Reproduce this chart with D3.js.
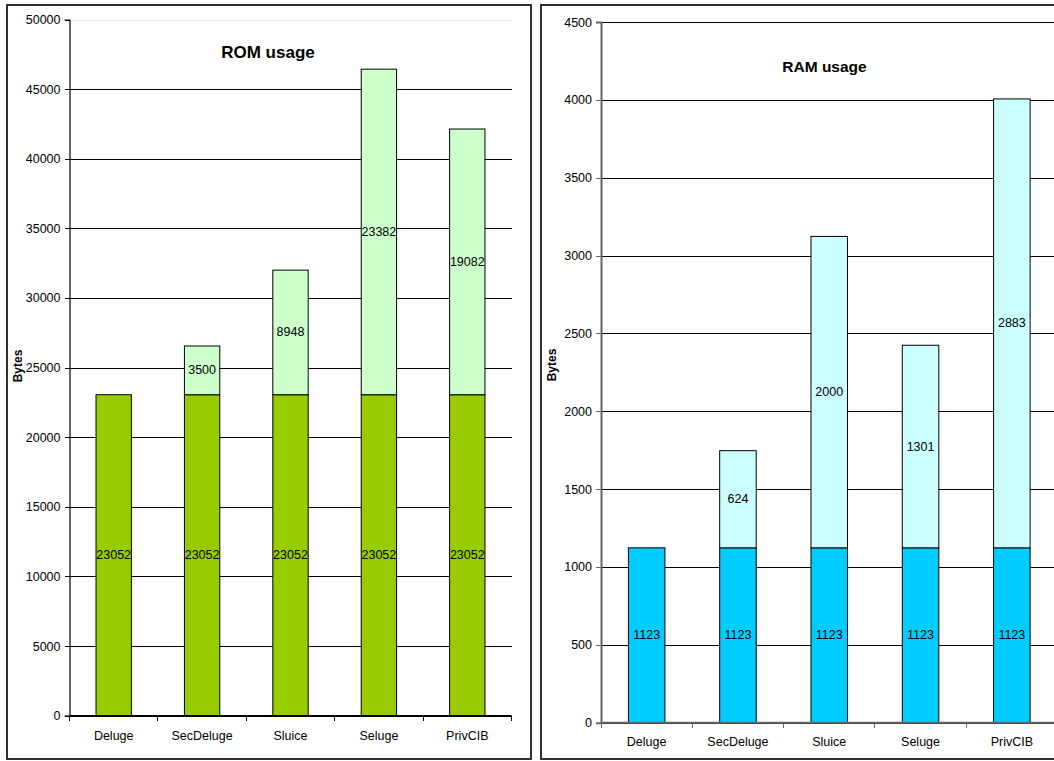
<!DOCTYPE html>
<html>
<head>
<meta charset="utf-8">
<script src="https://cdn.jsdelivr.net/npm/d3@7"></script>
<style>
  html, body { margin: 0; padding: 0; background: #fff; }
  svg { display: block; font-family: "Liberation Sans", Arial, sans-serif; }
</style>
</head>
<body>
<svg id="chart" width="1054" height="761"></svg>
<script>
// Platforms compared in both charts
const categories = ["Deluge", "SecDeluge", "Sluice", "Seluge", "PrivCIB"];

// ROM usage (bytes): shared base plus per-scheme extra
const romBase  = [23052, 23052, 23052, 23052, 23052];
const romExtra = [0, 3500, 8948, 23382, 19082];
const romTicks = [0, 5000, 10000, 15000, 20000, 25000, 30000, 35000, 40000, 45000, 50000];

// RAM usage (bytes): shared base plus per-scheme extra
const ramBase  = [1123, 1123, 1123, 1123, 1123];
const ramExtra = [0, 624, 2000, 1301, 2883];
const ramTicks = [0, 500, 1000, 1500, 2000, 2500, 3000, 3500, 4000, 4500];

const svg = d3.select("#chart");

function drawPanel(opt) {
  const g = svg.append("g");

  // chart frame
  g.append("rect")
    .attr("x", opt.frame[0]).attr("y", opt.frame[1])
    .attr("width", opt.frame[2]).attr("height", opt.frame[3])
    .attr("fill", "#fff").attr("stroke", "#1a1a1a").attr("stroke-width", 1.8);

  const [x0, x1] = opt.xRange;
  const [yb, yt] = opt.yRange;

  const x = d3.scaleBand().domain(categories).range([x0, x1])
    .paddingInner(0.6).paddingOuter(0.3);
  const y = d3.scaleLinear().domain([0, opt.max]).range([yb, yt]);

  // horizontal gridlines
  const grid = g.append("g").attr("transform", `translate(${x0},0)`)
    .call(d3.axisLeft(y).tickValues(opt.ticks).tickSize(-(x1 - x0)).tickFormat(""));
  grid.select(".domain").remove();
  grid.selectAll(".tick line")
    .attr("stroke", d => (d === opt.max && opt.lightTop) ? "#e6e6e6" : "#000")
    .attr("stroke-width", 1)
    .attr("shape-rendering", "crispEdges");

  // stacked bars
  const rows = categories.map((c, i) => ({ c, base: opt.base[i], extra: opt.extra[i] }));
  const bars = g.append("g");
  bars.selectAll("rect.base").data(rows).join("rect")
    .attr("class", "base")
    .attr("x", d => x(d.c)).attr("width", x.bandwidth())
    .attr("y", d => y(d.base)).attr("height", d => y(0) - y(d.base))
    .attr("fill", opt.baseColor).attr("stroke", "#000").attr("stroke-width", 1);
  bars.selectAll("rect.extra").data(rows.filter(d => d.extra > 0)).join("rect")
    .attr("class", "extra")
    .attr("x", d => x(d.c)).attr("width", x.bandwidth())
    .attr("y", d => y(d.base + d.extra)).attr("height", d => y(d.base) - y(d.base + d.extra))
    .attr("fill", opt.extraColor).attr("stroke", "#000").attr("stroke-width", 1);

  // value labels centred in each segment
  const labels = g.append("g").attr("font-size", 12.5).attr("fill", "#000")
    .attr("text-anchor", "middle").attr("dominant-baseline", "central");
  labels.selectAll("text.b").data(rows).join("text")
    .attr("x", d => x(d.c) + x.bandwidth() / 2)
    .attr("y", d => y(d.base / 2))
    .text(d => d.base);
  labels.selectAll("text.e").data(rows.filter(d => d.extra > 0)).join("text")
    .attr("x", d => x(d.c) + x.bandwidth() / 2)
    .attr("y", d => y(d.base + d.extra / 2))
    .text(d => d.extra);

  // y axis
  const yAxis = g.append("g").attr("transform", `translate(${x0},0)`)
    .call(d3.axisLeft(y).tickValues(opt.ticks).tickSize(5).tickPadding(4).tickFormat(d3.format("d")));
  yAxis.select(".domain").attr("stroke", opt.axisColor).attr("stroke-width", opt.axisWidth);
  yAxis.selectAll(".tick line").attr("stroke", opt.axisColor).attr("shape-rendering", "crispEdges");
  yAxis.selectAll("text").attr("font-size", 12.5).attr("fill", "#000")
    .attr("font-family", "Liberation Sans, Arial, sans-serif");

  // x axis: baseline, boundary ticks and category names
  const step = x.step();
  const bounds = d3.range(categories.length + 1).map(i => x0 + i * step);
  g.append("line").attr("x1", x0).attr("x2", x1).attr("y1", yb).attr("y2", yb)
    .attr("stroke", opt.axisColor).attr("stroke-width", opt.axisWidth);
  g.append("g").selectAll("line").data(bounds).join("line")
    .attr("x1", d => d).attr("x2", d => d).attr("y1", yb).attr("y2", yb + 5)
    .attr("stroke", opt.axisColor).attr("shape-rendering", "crispEdges");
  g.append("g").selectAll("text").data(categories).join("text")
    .attr("x", d => x(d) + x.bandwidth() / 2)
    .attr("y", yb + opt.catOffset)
    .attr("text-anchor", "middle").attr("dominant-baseline", "central")
    .attr("font-size", 12.5).attr("fill", "#000")
    .text(d => d);

  // title
  g.append("text").attr("x", opt.titlePos[0]).attr("y", opt.titlePos[1])
    .attr("text-anchor", "middle").attr("dominant-baseline", "central")
    .attr("font-weight", "bold").attr("font-size", opt.titleSize).attr("fill", "#000")
    .text(opt.title);

  // y axis title
  g.append("text")
    .attr("transform", `translate(${opt.yTitlePos[0]},${opt.yTitlePos[1]}) rotate(-90)`)
    .attr("text-anchor", "middle").attr("dominant-baseline", "central")
    .attr("font-weight", "bold").attr("font-size", 12).attr("fill", "#000")
    .text("Bytes");
}

drawPanel({
  frame: [7, 5, 524, 754],
  xRange: [69.5, 511.5],
  yRange: [715.7, 19.5],
  max: 50000,
  ticks: romTicks,
  base: romBase, extra: romExtra,
  baseColor: "#99cc00", extraColor: "#ccffcc",
  axisColor: "#000", axisWidth: 1.2,
  lightTop: true,
  catOffset: 20,
  title: "ROM usage", titlePos: [268, 52], titleSize: 17,
  yTitlePos: [18, 366]
});

drawPanel({
  frame: [541, 5, 540, 754],
  xRange: [601, 1057.5],
  yRange: [722.7, 22],
  max: 4500,
  ticks: ramTicks,
  base: ramBase, extra: ramExtra,
  baseColor: "#00ccff", extraColor: "#ccffff",
  axisColor: "#666", axisWidth: 2,
  lightTop: false,
  catOffset: 19,
  title: "RAM usage", titlePos: [824.5, 66], titleSize: 15.5,
  yTitlePos: [552, 365]
});
</script>
</body>
</html>
